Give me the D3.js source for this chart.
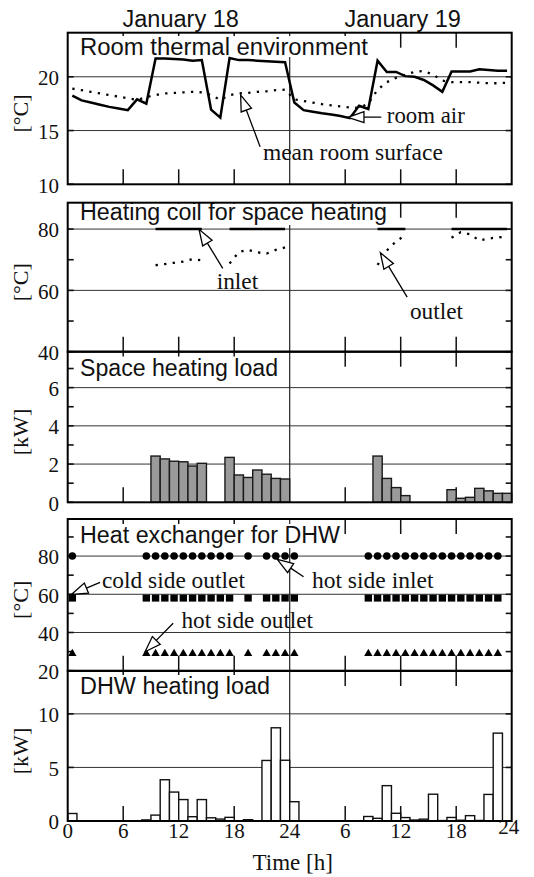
<!DOCTYPE html>
<html>
<head>
<meta charset="utf-8">
<script src="https://cdn.jsdelivr.net/npm/d3@7"></script>
<style>
  html, body { margin: 0; padding: 0; background: #fff; }
  svg { display: block; }
  .serif { font-family: "Liberation Serif", "Times New Roman", serif; fill: #111; }
  .sans { font-family: "Liberation Sans", Arial, sans-serif; fill: #111; }
</style>
</head>
<body>
<svg id="chart" width="534" height="877"></svg>
<script>
const _ = null;

// hourly samples, plotted at the middle of each hour (two days)
const hours = [0.5, 1.5, 2.5, 3.5, 4.5, 5.5, 6.5, 7.5, 8.5, 9.5, 10.5, 11.5, 12.5, 13.5, 14.5, 15.5,
  16.5, 17.5, 18.5, 19.5, 20.5, 21.5, 22.5, 23.5, 24.5, 25.5, 26.5, 27.5, 28.5, 29.5, 30.5, 31.5,
  32.5, 33.5, 34.5, 35.5, 36.5, 37.5, 38.5, 39.5, 40.5, 41.5, 42.5, 43.5, 44.5, 45.5, 46.5, 47.5];

// room thermal environment [°C]
const roomAir = [18.25, 17.8, 17.6, 17.4, 17.2, 17.05, 16.9, 17.9, 17.5, 21.7, 21.7, 21.65,
  21.6, 21.5, 21.55, 16.95, 16.2, 21.75, 21.55, 21.55, 21.5, 21.45, 21.4, 21.35,
  17.6, 16.9, 16.75, 16.6, 16.5, 16.35, 16.15, 17.3, 17.0, 21.5, 20.45, 20.45,
  20.06, 20.0, 19.7, 19.2, 18.6, 20.5, 20.5, 20.5, 20.7, 20.62, 20.55, 20.55];
const meanSurface = [18.9, 18.75, 18.6, 18.45, 18.3, 18.15, 18.0, 17.85, 18.1, 18.3, 18.45, 18.5,
  18.55, 18.6, 18.55, 18.3, 17.85, 18.3, 18.45, 18.5, 18.6, 18.65, 18.75, 18.8,
  17.9, 17.75, 17.6, 17.45, 17.35, 17.25, 17.15, 17.1, 17.5, 18.8, 19.5, 19.9,
  20.2, 20.45, 20.55, 20.2, 19.65, 19.5, 19.5, 19.5, 19.45, 19.4, 19.4, 19.45];

// heating coil for space heating [°C]
const coilInlet = [_, _, _, _, _, _, _, _, _, 80, 80, 80, 80, 80, 80, _, _, 80, 80, 80, 80, 80, 80, 80,
  _, _, _, _, _, _, _, _, _, 80, 80, 80, 80, _, _, _, _, 80, 80, 80, 80, 80, 80, 80];
const coilOutlet = [_, _, _, _, _, _, _, _, _, 68.2, 68.6, 69.0, 69.4, 70.2, 69.8, _, _, 68.8, 72.5, 73.2, 72.4, 72.0, 73.2, 74.0,
  _, _, _, _, _, _, _, _, _, 68.3, 73.0, 76.0, 78.0, _, _, _, _, 77.2, 79.0, 78.3, 76.3, 76.9, 77.3, 77.5];

// space heating load [kW]
const spaceLoad = [0, 0, 0, 0, 0, 0, 0, 0, 0, 2.42, 2.27, 2.15, 2.12, 1.9, 2.04, 0, 0, 2.35, 1.43, 1.3, 1.69, 1.47, 1.25, 1.22,
  0, 0, 0, 0, 0, 0, 0, 0, 0, 2.42, 1.25, 0.77, 0.35, 0, 0, 0, 0, 0.66, 0.21, 0.26, 0.73, 0.6, 0.47, 0.47];

// heat exchanger for DHW [°C]
const hxHotInlet = [80, _, _, _, _, _, _, _, 80, 80, 80, 80, 80, 80, 80, 80, 80, 80, _, 80, _, 80, 80, 80,
  80, _, _, _, _, _, _, _, 80, 80, 80, 80, 80, 80, 80, 80, 80, 80, 80, 80, 80, 80, 80, _];
const hxColdOutlet = [58, _, _, _, _, _, _, _, 58, 58, 58, 58, 58, 58, 58, 58, 58, 58, _, 58, _, 58, 58, 58,
  58, _, _, _, _, _, _, _, 58, 58, 58, 58, 58, 58, 58, 58, 58, 58, 58, 58, 58, 58, 58, _];
const hxHotOutlet = [29, _, _, _, _, _, _, _, 29, 29, 29, 29, 29, 29, 29, 29, 29, 29, _, 29, _, 29, 29, 29,
  29, _, _, _, _, _, _, _, 29, 29, 29, 29, 29, 29, 29, 29, 29, 29, 29, 29, 29, 29, 29, _];

// DHW heating load [kW]
const dhwLoad = [0.7, 0, 0, 0, 0, 0, 0, 0, 0.1, 0.55, 3.85, 2.7, 2.0, 0.4, 2.0, 0.3, 0.18, 0.34, 0, 0.12, 0, 5.65, 8.7, 5.67,
  1.8, 0, 0, 0, 0, 0, 0, 0, 0.42, 0.25, 3.3, 0.72, 0.32, 0.09, 0.17, 2.5, 0.04, 0.33, 0.07, 0.5, 0.05, 2.48, 8.2, 0];

// axis ticks
const xTicks = [0, 6, 12, 18, 24, 30, 36, 42, 48];
const xTickLabels = ['0', '6', '12', '18', '24', '6', '12', '18', '24'];
const days = ['January 18', 'January 19'];
const dayCentres = [12, 36];

const svg = d3.select('#chart');
const x = d3.scaleLinear().domain([0, 48]).range([67.7, 511.7]);

const panels = [
  { top: 32.7, bottom: 184.3, domain: [10, 24.1], major: [10, 15, 20], minor: [], grid: [15, 20],
    unit: '[°C]', title: 'Room thermal environment', titleW: 288, base: 55, desc: 2 },
  { top: 202.7, bottom: 351.7, domain: [40, 88.6], major: [40, 60, 80], minor: [50, 70], grid: [60, 80],
    unit: '[°C]', title: 'Heating coil for space heating', titleW: 307, base: 220, desc: 5 },
  { top: 351.7, bottom: 502.3, domain: [0, 7.88], major: [0, 2, 4, 6], minor: [1, 3, 5, 7], grid: [2, 4, 6],
    unit: '[kW]', title: 'Space heating load', titleW: 198, base: 375.5, desc: 5 },
  { top: 519, bottom: 670.7, domain: [20, 99.4], major: [20, 40, 60, 80], minor: [30, 50, 70, 90], grid: [40, 60, 80],
    unit: '[°C]', title: 'Heat exchanger for DHW', titleW: 260, base: 543, desc: 5 },
  { top: 671, bottom: 821, domain: [0, 14], major: [0, 5, 10], minor: [], grid: [5, 10],
    unit: '[kW]', title: 'DHW heating load', titleW: 190, base: 694, desc: 5 }
];

const left = x(0), right = x(48);

panels.forEach(p => {
  p.y = d3.scaleLinear().domain(p.domain).range([p.bottom, p.top]);
  p.back = svg.append('g');
  p.box = svg.append('g');
  p.data = svg.append('g');
  p.front = svg.append('g');

  // horizontal grid lines
  p.back.selectAll('line.grid').data(p.grid).join('line')
    .attr('x1', left).attr('x2', right)
    .attr('y1', d => p.y(d)).attr('y2', d => p.y(d))
    .attr('stroke', '#333').attr('stroke-width', 1);

  // midnight line
  p.back.append('line')
    .attr('x1', x(24)).attr('x2', x(24))
    .attr('y1', p.top).attr('y2', p.bottom)
    .attr('stroke', '#222').attr('stroke-width', 1.2);

  // x ticks (inside, top and bottom)
  const inner = xTicks.filter(t => t > 0 && t < 48 && t !== 24);
  p.back.selectAll('line.xb').data(inner).join('line')
    .attr('x1', d => x(d)).attr('x2', d => x(d))
    .attr('y1', p.bottom).attr('y2', p.bottom - 15)
    .attr('stroke', '#111').attr('stroke-width', 1.5);
  p.back.selectAll('line.xt').data(inner).join('line')
    .attr('x1', d => x(d)).attr('x2', d => x(d))
    .attr('y1', p.top).attr('y2', p.top + 15)
    .attr('stroke', '#111').attr('stroke-width', 1.5);

  // y ticks both sides
  const yt = p.major.concat(p.minor);
  p.back.selectAll('line.yl').data(yt).join('line')
    .attr('x1', left).attr('x2', left + 6)
    .attr('y1', d => p.y(d)).attr('y2', d => p.y(d))
    .attr('stroke', '#111').attr('stroke-width', 1.6);
  p.back.selectAll('line.yr').data(yt).join('line')
    .attr('x1', right).attr('x2', right - 6)
    .attr('y1', d => p.y(d)).attr('y2', d => p.y(d))
    .attr('stroke', '#111').attr('stroke-width', 1.6);

  // y tick labels
  p.front.selectAll('text.yl').data(p.major).join('text')
    .attr('class', 'serif')
    .attr('x', 59).attr('y', d => p.y(d)).attr('dy', '0.4em')
    .attr('text-anchor', 'end').attr('font-size', 21)
    .text(d => d);

  // unit label
  p.front.append('text')
    .attr('class', 'serif')
    .attr('transform', `translate(28,${(p.top + p.bottom) / 2 + 5}) rotate(-90)`)
    .attr('text-anchor', 'middle').attr('font-size', 22)
    .text(p.unit);

  // title on a white box
  p.box.append('rect')
    .attr('x', left + 9).attr('width', p.titleW + 6)
    .attr('y', Math.max(p.top + 1, p.base - 19))
    .attr('height', p.base + p.desc - Math.max(p.top + 1, p.base - 19))
    .attr('fill', '#fff');
  p.front.append('text')
    .attr('class', 'sans')
    .attr('x', left + 12.3).attr('y', p.base)
    .attr('font-size', 23)
    .attr('textLength', p.titleW).attr('lengthAdjust', 'spacingAndGlyphs')
    .text(p.title);

  // frame
  p.front.append('rect')
    .attr('x', left).attr('y', p.top)
    .attr('width', right - left).attr('height', p.bottom - p.top)
    .attr('fill', 'none').attr('stroke', '#000').attr('stroke-width', 2);
});

const dotted = sel => sel.attr('fill', 'none').attr('stroke', '#000')
  .attr('stroke-width', 2.3).attr('stroke-dasharray', '2.3,6.3');

// panel 1: room thermal environment
{
  const p = panels[0];
  const line = d3.line().x((d, i) => x(hours[i])).y(d => p.y(d));
  p.data.append('path').attr('d', line(meanSurface)).call(dotted);
  p.data.append('path').attr('d', line(roomAir))
    .attr('fill', 'none').attr('stroke', '#000').attr('stroke-width', 2.5)
    .attr('stroke-linejoin', 'miter');
}

// panel 2: heating coil
{
  const p = panels[1];
  const line = d3.line().defined(d => d != null).x((d, i) => x(hours[i])).y(d => p.y(d));
  p.data.append('path').attr('d', line(coilOutlet)).call(dotted);
  p.data.append('path').attr('d', line(coilInlet))
    .attr('fill', 'none').attr('stroke', '#000').attr('stroke-width', 2.4);
}

// bar panels
function bars(p, values, fill, stroke) {
  const idx = d3.range(values.length).filter(i => values[i] > 0);
  p.data.selectAll('rect.bar').data(idx).join('rect')
    .attr('x', i => x(hours[i] - 0.5))
    .attr('width', i => x(hours[i] + 0.5) - x(hours[i] - 0.5))
    .attr('y', i => p.y(values[i]))
    .attr('height', i => p.y(0) - p.y(values[i]))
    .attr('fill', fill).attr('stroke', stroke).attr('stroke-width', 1.4);
}
bars(panels[2], spaceLoad, '#9a9a9a', '#1a1a1a');
bars(panels[4], dhwLoad, '#fff', '#111');

// panel 4: heat exchanger markers
{
  const p = panels[3];
  const idx = s => d3.range(s.length).filter(i => s[i] != null);
  p.data.selectAll('circle.hi').data(idx(hxHotInlet)).join('circle')
    .attr('cx', i => x(hours[i])).attr('cy', i => p.y(hxHotInlet[i])).attr('r', 3.8)
    .attr('fill', '#000');
  p.data.selectAll('rect.co').data(idx(hxColdOutlet)).join('rect')
    .attr('x', i => x(hours[i]) - 3.7).attr('y', i => p.y(hxColdOutlet[i]) - 3.5)
    .attr('width', 7.4).attr('height', 7).attr('fill', '#000');
  const tri = d3.symbol().type(d3.symbolTriangle).size(30);
  p.data.selectAll('path.ho').data(idx(hxHotOutlet)).join('path')
    .attr('transform', i => `translate(${x(hours[i])},${p.y(hxHotOutlet[i])})`)
    .attr('d', tri).attr('fill', '#000');
}

// annotations with open arrow heads
const notes = [
  { panel: 0, text: 'room air', tip: [30.3, 16.23], tail: [33.9, 16.25], at: [34.5, 15.67], w: 78 },
  { panel: 0, text: 'mean room surface', tip: [18.7, 18.3], tail: [20.8, 13.5], at: [21.1, 12.26], w: 180 },
  { panel: 1, text: 'inlet', tip: [14.2, 79.9], tail: [16.76, 67.2], at: [16.1, 60.5], w: 41.6 },
  { panel: 1, text: 'outlet', tip: [33.8, 72.3], tail: [36.7, 57.8], at: [37.0, 50.8], w: 53 },
  { panel: 3, text: 'cold side outlet', tip: [0.43, 60], tail: [3.5, 66.2], at: [3.7, 63.4], w: 143 },
  { panel: 3, text: 'hot side inlet', tip: [22.66, 78.3], tail: [25.5, 69.2], at: [26.4, 63.4], w: 121.6 },
  { panel: 3, text: 'hot side outlet', tip: [8.36, 29.9], tail: [11.4, 44.8], at: [12.3, 42.2], w: 131.6 }
];
const notesG = svg.append('g');
notes.forEach(n => {
  const p = panels[n.panel];
  const tx = x(n.tip[0]), ty = p.y(n.tip[1]);
  const sx = x(n.tail[0]), sy = p.y(n.tail[1]);
  const len = Math.hypot(sx - tx, sy - ty);
  const ux = (sx - tx) / len, uy = (sy - ty) / len;
  const hl = 16, hw = 5.5;
  const bx = tx + ux * hl, by = ty + uy * hl;
  notesG.append('line')
    .attr('x1', sx).attr('y1', sy).attr('x2', bx).attr('y2', by)
    .attr('stroke', '#000').attr('stroke-width', 1.3);
  notesG.append('path')
    .attr('d', `M${tx},${ty}L${bx - uy * hw},${by + ux * hw}L${bx + uy * hw},${by - ux * hw}Z`)
    .attr('fill', '#fff').attr('stroke', '#000').attr('stroke-width', 1.3)
    .attr('stroke-linejoin', 'miter');
  notesG.append('text')
    .attr('class', 'serif')
    .attr('x', x(n.at[0])).attr('y', p.y(n.at[1]))
    .attr('font-size', 23)
    .attr('textLength', n.w).attr('lengthAdjust', 'spacingAndGlyphs')
    .text(n.text);
});

// day labels at the top
svg.selectAll('text.day').data(days).join('text')
  .attr('class', 'sans')
  .attr('x', (d, i) => x(dayCentres[i]) + 2).attr('y', 27)
  .attr('text-anchor', 'middle').attr('font-size', 23.5)
  .text(d => d);

// time axis labels
svg.selectAll('text.xt').data(xTicks).join('text')
  .attr('class', 'serif')
  .attr('x', d => x(d) - (d === 48 ? 3 : 0)).attr('y', d => d === 48 ? 834 : 837.5)
  .attr('text-anchor', 'middle').attr('font-size', 21)
  .text((d, i) => xTickLabels[i]);

svg.append('text')
  .attr('class', 'serif')
  .attr('x', x(24) + 3).attr('y', 870)
  .attr('text-anchor', 'middle').attr('font-size', 23)
  .text('Time [h]');
</script>
</body>
</html>
